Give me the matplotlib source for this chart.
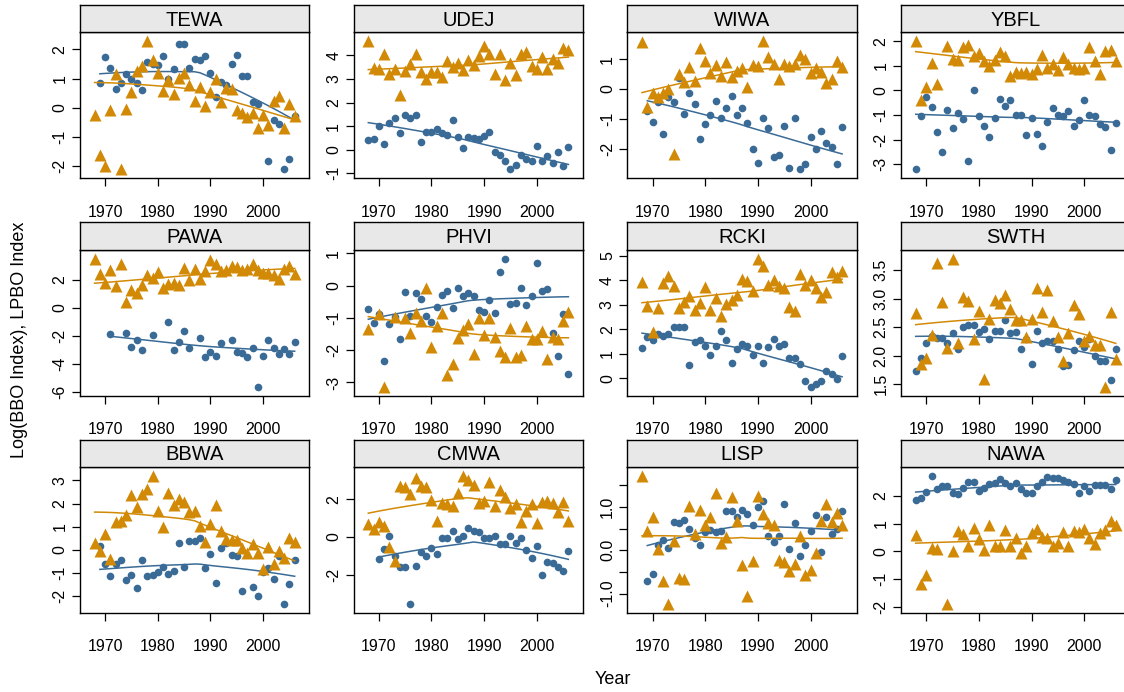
import numpy as np
import matplotlib
matplotlib.use("Agg")
import matplotlib.pyplot as plt

plt.rcParams['font.family'] = ['Liberation Sans', 'DejaVu Sans']

N = None
years = list(range(1968, 2007))
species = ["TEWA", "UDEJ", "WIWA", "YBFL", "PAWA", "PHVI", "RCKI", "SWTH",
           "BBWA", "CMWA", "LISP", "NAWA"]

TEWA_blue = [N, 0.84, 1.73, 1.37, 0.64, 0.85, 1.16, 1.0, 0.84, 0.60, 1.56, 1.5, 1.46, 1.79, 1.0, 1.33, 2.19, 2.18, 1.37, 1.69, 1.63, 1.79, 1.21, 0.38, 0.87, 0.8, 1.51, 1.82, 1.1, 1.1, 0.21, 0.15, N, -1.83, -0.42, -0.56, -2.1, -1.75, -0.28]
TEWA_orange = [-0.23, -1.6, -2.0, -0.08, 1.16, -2.08, -0.02, 0.55, 1.28, 1.42, 2.28, 1.64, 1.21, 0.59, 0.96, 0.46, 1.03, 1.2, 0.77, 0.25, 0.71, 0.08, 0.54, 1.0, 0.21, 0.67, 0.66, -0.08, -0.17, -0.3, -0.19, -0.7, -0.24, -0.6, 0.25, 0.4, -0.67, 0.15, -0.28]
UDEJ_blue = [0.42, 0.46, 1.02, 0.24, 1.13, 1.36, 0.69, 1.48, 1.36, 1.47, 0.35, 0.76, 0.76, 0.87, 0.7, 0.63, 1.27, 0.52, 0.08, 0.53, 0.5, 0.47, 0.6, 0.75, -0.08, -0.21, -0.49, -0.83, -0.64, -0.24, -0.41, -0.48, 0.18, -0.49, -0.25, -0.55, -0.1, -0.7, 0.13]
UDEJ_orange = [4.6, 3.48, 3.41, 4.08, 3.23, 3.44, 2.32, 3.34, 3.62, 4.04, 3.29, 3.02, 3.29, 3.29, 3.08, 3.76, 3.52, 3.69, 3.37, 3.8, 3.58, 3.97, 4.42, 4.08, 3.23, 4.04, 2.95, 3.69, 3.15, 4.08, 4.14, 3.55, 3.44, 3.93, 3.41, 3.86, 3.69, 4.32, 4.25]
WIWA_blue = [N, -0.72, -1.1, -0.44, -1.49, -0.26, -0.43, 0.38, -0.84, -0.12, -0.49, -1.68, -1.18, -0.87, -0.39, -0.97, -0.62, -0.25, -0.87, -0.65, -1.15, -2.02, -2.49, -0.97, -1.31, -2.29, -2.21, -1.24, -2.63, -0.96, -2.69, -2.51, -1.62, -2.01, -1.4, -1.8, -1.94, -2.51, -1.28]
WIWA_orange = [1.57, -0.6, -0.12, -0.28, -0.13, 0.0, -2.17, 0.52, 0.24, 0.75, 0.28, 1.36, 0.94, 0.54, 0.8, 0.44, 0.9, 0.39, 0.59, 0.69, 0.08, 0.8, 0.77, 1.6, 1.07, 0.85, 0.33, 0.83, 0.77, 0.83, 1.13, 1.02, 0.54, 0.72, 0.57, 0.19, 0.35, 0.94, 0.74]
YBFL_blue = [-3.21, -1.05, -0.26, -0.69, -1.69, -2.51, -0.79, -1.53, -0.9, -1.18, -2.89, 0.01, -1.05, -1.44, -1.91, -1.12, -0.36, -0.63, -0.39, -0.99, -1.01, -1.81, -1.12, -1.76, -2.28, -1.28, -0.73, -1.01, -1.05, -0.85, -1.44, -1.21, -0.4, -0.99, -1.05, -1.36, -1.49, -2.41, -1.33]
YBFL_orange = [2.0, -0.39, 0.15, 1.12, 0.26, N, 1.8, 1.29, 1.24, 1.77, 1.84, 1.4, 1.53, 1.2, 1.01, 1.22, 1.57, 1.42, 0.59, 0.77, 0.69, 0.77, 0.65, 0.89, 1.44, 0.93, 1.06, 0.85, 1.36, 1.06, 0.9, 0.86, 0.9, 1.75, 1.2, 0.66, 1.6, 1.65, 1.2]
PAWA_blue = [N, N, N, -1.87, N, N, -1.77, -2.79, -2.32, -2.98, N, -1.94, N, N, -1.02, -2.98, -2.44, -1.63, -2.88, N, -2.13, -3.52, -3.17, -3.45, -2.51, N, -2.32, -3.17, -3.24, -3.52, -2.88, -5.6, -3.45, -2.29, -2.86, -3.26, -2.95, -3.26, -2.41]
PAWA_orange = [3.5, 2.39, 1.77, 2.67, 1.54, 3.1, 0.38, 1.25, 1.04, 1.61, 2.34, 2.1, 2.55, 1.44, 1.68, 1.77, 1.65, 2.86, 2.0, 2.74, 2.08, 2.65, 3.43, 3.14, 2.62, 2.67, 2.98, 2.91, 2.67, 2.79, 3.1, 2.67, 2.48, 2.5, 2.32, 2.03, 2.74, 2.98, 2.41]
PHVI_blue = [-0.73, -1.15, -0.88, -2.33, -1.18, -0.96, -1.65, -0.2, -0.95, -0.24, -0.41, -0.94, -1.14, -0.66, -0.28, -0.15, -0.69, -0.07, -0.31, -0.23, -0.31, -0.76, -0.81, -0.44, -0.86, 0.42, 0.84, -0.57, -0.53, -0.07, -0.61, -0.31, 0.71, -0.15, -0.11, -1.47, -2.18, -0.89, -2.74]
PHVI_orange = [-1.35, N, -0.89, -3.13, N, -0.96, N, -1.0, -1.47, -0.84, -1.09, -0.07, -1.9, -1.25, -0.86, -2.77, -2.43, -1.61, -1.38, -1.18, -2.11, -1.01, -1.53, -1.0, -1.58, -2.04, -2.2, -1.32, -2.2, -2.14, -1.25, -1.66, -1.64, -1.42, -2.27, -1.58, -1.65, -1.11, -0.82]
RCKI_blue = [1.22, 1.7, 1.55, 1.79, 1.71, 1.81, 2.08, 2.08, 2.08, 0.53, 1.49, 1.56, 1.32, 0.94, 1.32, 1.94, 1.56, 0.61, 1.18, 1.39, 1.3, 0.95, 1.33, 0.62, 1.28, 1.6, 1.3, 1.39, 0.82, 0.82, 0.57, -0.12, -0.35, -0.24, -0.1, 0.3, 0.16, -0.03, 0.91]
RCKI_orange = [3.94, 2.93, 1.88, 2.87, 3.9, 4.16, 3.76, 2.87, 3.1, 3.37, 2.79, 3.06, 3.71, 2.79, 3.26, 2.53, 3.03, 3.21, 3.4, 4.05, 3.98, 3.55, 4.89, 4.57, 3.82, 4.02, 3.78, 3.68, 2.89, 2.76, 4.25, 3.82, 4.01, 3.67, 3.33, 3.51, 4.36, 4.14, 4.39]
SWTH_blue = [1.74, 1.96, 2.23, 2.34, 2.31, 2.31, 2.22, 2.4, 2.12, 2.51, 2.53, 2.53, 2.42, 2.47, 2.3, 2.43, 2.44, 2.63, 2.4, 2.42, 2.12, 2.3, 1.86, 2.43, 2.23, 2.26, 2.26, 2.11, 1.82, 1.84, 2.1, 2.26, 2.15, 2.3, 2.0, 1.91, 1.91, 1.58, 2.12]
SWTH_orange = [2.75, 1.85, 1.96, 2.36, 3.63, 2.94, 2.13, 3.7, 2.23, 3.02, 2.95, 2.3, 2.79, 1.6, 2.64, 2.98, 2.93, 3.06, 2.82, 2.63, 2.63, 2.33, 2.64, 3.18, 2.76, 3.15, 2.6, 2.32, 1.9, 2.39, 2.89, 2.73, 2.25, 2.35, 2.19, 2.19, 1.46, 2.77, 1.95]
BBWA_blue = [N, 0.19, -0.61, -1.11, -0.61, -0.43, -1.3, -1.09, -1.66, -0.43, -1.11, -1.06, -0.97, -0.74, -1.03, -0.91, 0.3, -0.74, 0.39, 0.39, 0.51, -0.76, -0.17, -1.44, 0.07, 0.29, -0.21, -0.27, -1.77, N, -1.59, -2.0, -0.97, -0.79, -1.26, -0.24, -2.33, -1.47, -0.44]
BBWA_orange = [0.29, -0.04, 0.71, -0.4, 1.2, 1.24, 1.53, 2.36, 1.84, 2.41, 2.63, 3.2, 1.67, 0.99, 2.46, 1.94, 2.21, 2.07, 1.63, 1.67, 1.03, 0.36, 1.1, 1.93, 0.81, 0.46, 0.41, 0.41, 0.09, -0.11, 0.27, -0.14, -0.83, 0.13, -0.61, -0.04, -0.36, 0.53, 0.33]
CMWA_blue = [N, N, -1.18, -0.65, 0.07, -1.0, -1.61, -1.61, -3.54, -1.53, -0.79, -1.02, -0.58, -0.88, -0.04, -0.04, 0.32, -0.12, 0.05, 0.46, 0.32, 0.26, -0.04, -0.04, 0.04, -0.39, -0.39, 0.04, -0.33, -0.04, -0.67, -1.09, -0.46, -2.02, -1.3, -1.35, -1.58, -1.79, -0.74]
CMWA_orange = [0.7, 0.4, 0.81, 0.58, -0.53, -1.26, 2.72, 2.65, 2.28, 3.12, 2.68, 2.63, 1.93, 0.86, 1.79, 1.72, 1.65, 2.33, 3.23, 3.0, 2.77, 1.81, 1.89, 2.89, 1.63, 2.47, 2.1, 1.54, 1.75, 0.79, 1.37, 1.75, 0.75, 1.86, 1.88, 1.79, 1.32, 1.86, 0.84]
LISP_blue = [N, -0.7, -0.55, 0.13, 0.24, 0.05, 0.65, 0.62, 0.71, 0.49, 0.28, 0.13, 0.42, 0.47, 0.42, 0.44, 0.9, 0.9, 0.78, 0.92, 0.84, 0.59, 0.99, 1.15, 0.34, 0.19, 0.34, 1.08, 0.04, 0.63, -0.14, 0.13, 0.44, 0.82, -0.05, 0.78, 0.38, 0.49, 0.9]
LISP_orange = [1.72, 0.45, 0.76, 0.03, -0.7, -1.24, 0.21, -0.64, -0.66, 1.02, 0.38, 0.94, 0.59, 0.76, 1.32, 0.17, 0.31, 1.22, 0.67, -0.33, -1.06, -0.25, 1.26, 0.85, 0.63, 0.58, -0.22, -0.28, -0.48, -0.31, 0.32, -0.56, -0.45, -0.06, 0.67, 1.07, 0.65, 0.86, 0.58]
NAWA_blue = [1.85, 1.91, 2.15, 2.72, 2.23, 2.35, 2.35, 2.11, 2.05, 2.29, 2.51, 2.49, 2.19, 2.27, 2.41, 2.45, 2.59, 2.47, 2.35, 2.45, 2.25, 2.11, 2.11, 2.35, 2.49, 2.69, 2.63, 2.65, 2.57, 2.51, 2.41, 2.11, 2.35, 2.19, 2.39, 2.39, 2.39, 2.23, 2.57]
NAWA_orange = [0.6, -1.19, -0.86, 0.14, 0.1, N, -1.89, 0.02, 0.75, 0.63, 0.18, 0.86, 0.45, 0.06, 0.96, 0.2, 0.18, 0.76, 0.18, 0.48, -0.06, 0.18, 0.65, 0.79, 0.51, 0.48, 0.18, 0.3, 0.69, 0.18, 0.74, 0.69, 0.8, 0.48, 0.27, 0.68, 0.78, 1.1, 0.96]

blue_series = [TEWA_blue, UDEJ_blue, WIWA_blue, YBFL_blue, PAWA_blue, PHVI_blue,
               RCKI_blue, SWTH_blue, BBWA_blue, CMWA_blue, LISP_blue, NAWA_blue]
orange_series = [TEWA_orange, UDEJ_orange, WIWA_orange, YBFL_orange, PAWA_orange, PHVI_orange,
                 RCKI_orange, SWTH_orange, BBWA_orange, CMWA_orange, LISP_orange, NAWA_orange]

yticks = [[-2, -1, 0, 1, 2], [-1, 0, 1, 2, 3, 4], [-2, -1, 0, 1], [-3, -2, -1, 0, 1, 2],
          [-6, -4, -2, 0, 2], [-3, -2, -1, 0, 1], [0, 1, 2, 3, 4, 5], [1.5, 2.0, 2.5, 3.0, 3.5],
          [-2, -1, 0, 1, 2, 3], [-2, 0, 2], [-1.0, -0.5, 0.0, 0.5, 1.0, 1.5], [-2, -1, 0, 1, 2]]
ytick_labels = [["-2", "-1", "0", "1", "2"], ["-1", "0", "1", "2", "3", "4"], ["-2", "-1", "0", "1"],
                ["-3", "-2", "-1", "0", "1", "2"], ["-6", "-4", "-2", "0", "2"], ["-3", "-2", "-1", "0", "1"],
                ["0", "1", "2", "3", "4", "5"], ["1.5", "2.0", "2.5", "3.0", "3.5"],
                ["-2", "-1", "0", "1", "2", "3"], ["-2", "0", "2"], ["-1.0", "", "0.0", "", "1.0", ""],
                ["-2", "-1", "0", "1", "2"]]
xticks = [1970, 1980, 1990, 2000]

BLUE = "#3A6B96"
ORANGE = "#D28A06"


def lowess(x, y, f=1.0, it=4):
    """Robust locally-weighted linear smoother (tricube kernel, bisquare robustness)."""
    n = len(x)
    r = min(int(np.ceil(f * n)), n)
    yest = np.zeros(n)
    delta = np.ones(n)
    for _ in range(it + 1):
        for i in range(n):
            d = np.abs(x - x[i])
            h = np.sort(d)[r - 1]
            w = np.clip(d / h, 0, 1)
            w = (1 - w ** 3) ** 3 * delta
            sw = w.sum()
            xm = (w * x).sum() / sw
            ym = (w * y).sum() / sw
            sxx = (w * (x - xm) ** 2).sum()
            b = (w * (x - xm) * (y - ym)).sum() / sxx if sxx > 0 else 0
            yest[i] = ym + b * (x[i] - xm)
        res = y - yest
        s = np.median(np.abs(res))
        if s == 0:
            break
        delta = np.clip(res / (6 * s), -1, 1)
        delta = (1 - delta ** 2) ** 2
    return yest


W, H = 1124, 692
fig = plt.figure(figsize=(W / 100, H / 100), dpi=100)

yrs = np.array(years, dtype=float)
xpad = 0.073 * (yrs.max() - yrs.min())
xlim = (yrs.min() - xpad, yrs.max() + xpad)

col_left0, col_pitch, pw = 80.0, 273.7, 229.3
row_top0, row_pitch, ph, sh = 32.3, 217.3, 146.0, 27.3

for k, name in enumerate(species):
    r, c = divmod(k, 4)
    left = col_left0 + c * col_pitch
    top = row_top0 + r * row_pitch
    ax = fig.add_axes([left / W, 1 - (top + ph) / H, pw / W, ph / H])
    sax = fig.add_axes([left / W, 1 - top / H, pw / W, sh / H])
    sax.set_facecolor("#E8E8E8")
    sax.set_xticks([]); sax.set_yticks([])
    for sp in sax.spines.values():
        sp.set_linewidth(1.0)
    sax.text(0.5, 0.45, name, ha="center", va="center", fontsize=14.5, transform=sax.transAxes)

    b = np.array([np.nan if v is None else v for v in blue_series[k]], dtype=float)
    o = np.array([np.nan if v is None else v for v in orange_series[k]], dtype=float)
    allv = np.concatenate([b, o])
    lo, hi = np.nanmin(allv), np.nanmax(allv)
    ypad = 0.07 * (hi - lo)

    for vals, col, mk, ms in [(b, BLUE, "o", 5.5), (o, ORANGE, "^", 8.0)]:
        m = ~np.isnan(vals)
        ax.plot(yrs[m], vals[m], ls="none", marker=mk, ms=ms, color=col, mec="none")
        sm = lowess(yrs[m], vals[m])
        ax.plot(yrs[m], sm, color=col, lw=1.1)

    ax.set_xlim(*xlim)
    ax.set_ylim(lo - ypad, hi + ypad)
    ax.set_xticks(xticks)
    ax.set_xticklabels([str(t) for t in xticks])
    ax.set_yticks(yticks[k])
    ax.set_yticklabels(ytick_labels[k], rotation=90, va="center")
    ax.tick_params(axis="both", direction="out", length=6, width=0.9, labelsize=11.5, color="black")
    ax.tick_params(axis="x", pad=13)
    ax.tick_params(axis="y", pad=3)
    for sp in ax.spines.values():
        sp.set_linewidth(1.0)

fig.text(613 / W, 1 - 680 / H, "Year", ha="center", va="center", fontsize=13)
fig.text(20 / W, 1 - 340 / H, "Log(BBO Index), LPBO Index", ha="center", va="center",
         rotation=90, fontsize=13)

fig.savefig("out.png", dpi=100)
